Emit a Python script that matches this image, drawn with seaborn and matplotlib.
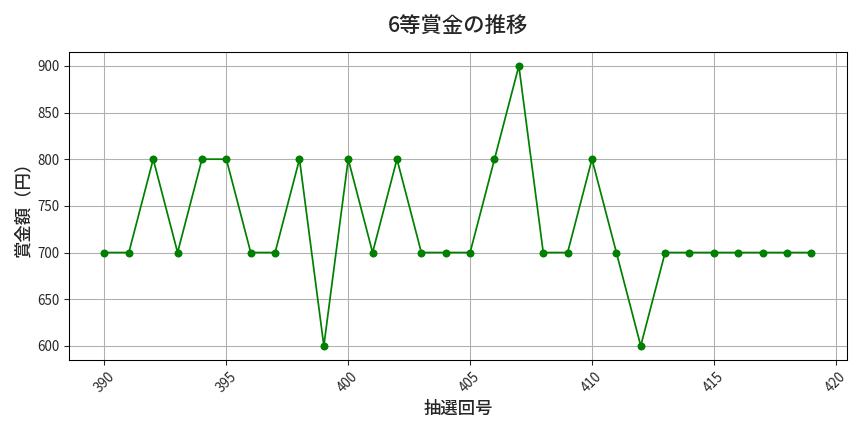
import matplotlib
matplotlib.use('Agg')

import matplotlib.pyplot as plt
import seaborn as sns
import pandas as pd

draws = list(range(390, 420))
prizes = [700, 700, 800, 700, 800, 800, 700, 700, 800, 600,
          800, 700, 800, 700, 700, 700, 800, 900, 700, 700,
          800, 700, 600, 700, 700, 700, 700, 700, 700, 700]

sns.set_style("ticks")
plt.rcParams['font.family'] = ['Noto Sans CJK JP', 'DejaVu Sans']

df = pd.DataFrame({'draw': draws, 'prize': prizes})

fig, ax = plt.subplots(figsize=(9, 4.5), dpi=96)
sns.lineplot(data=df, x='draw', y='prize', color='green', marker='o',
             markersize=6, markeredgewidth=0, linewidth=1.3, ax=ax)

ax.set_title('6等賞金の推移', fontsize=16, fontweight='medium', pad=14)
ax.set_xlabel('抽選回号', fontsize=13, fontweight='medium', labelpad=4)
ax.set_ylabel('賞金額（円）', fontsize=13, fontweight='medium', labelpad=4)
ax.grid(True, color='#b0b0b0', linewidth=0.8)
ax.tick_params(axis='x', rotation=45)
for s in ax.spines.values():
    s.set_color('black')
    s.set_linewidth(0.8)

fig.subplots_adjust(left=0.080, right=0.980, top=0.880, bottom=0.167)
fig.savefig('out.png')
